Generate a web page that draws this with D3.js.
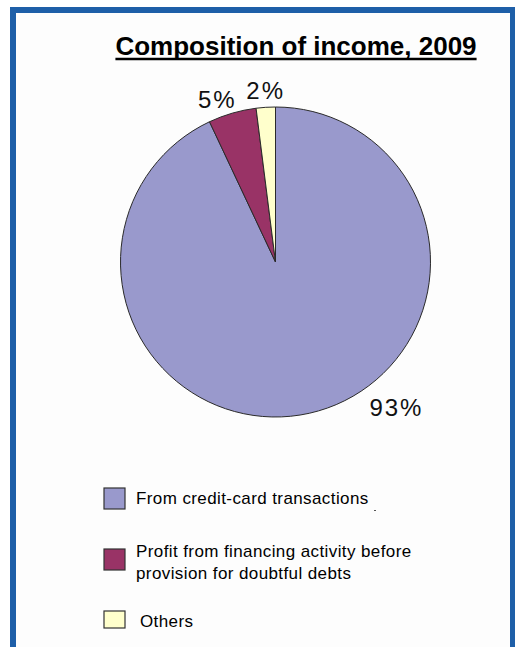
<!DOCTYPE html>
<html>
<head>
<meta charset="utf-8">
<script src="https://cdn.jsdelivr.net/npm/d3@7"></script>
<style>
  html, body { margin: 0; padding: 0; background: #ffffff; }
  svg { display: block; font-family: "Liberation Sans", Arial, Helvetica, sans-serif; }
</style>
</head>
<body>
<svg id="chart" width="515" height="647"></svg>
<script>
// Income composition, 2009 (share of total, %)
const categories = [
  "From credit-card transactions",
  "Profit from financing activity before provision for doubtful debts",
  "Others"
];
const legendLines = [
  ["From credit-card transactions"],
  ["Profit from financing activity before", "provision for doubtful debts"],
  ["Others"]
];
const shares = [93, 5, 2];
const sliceColors = ["#9999cc", "#993366", "#ffffcc"];
const chartTitle = "Composition of income, 2009";

const svg = d3.select("#chart");
const W = 515, H = 647;

// Blue frame around the panel (bottom edge runs off the page)
svg.append("rect")
  .attr("x", 13).attr("y", 10)
  .attr("width", 500).attr("height", H)
  .attr("fill", "#fdfdfd")
  .attr("stroke", "#1e5fa8")
  .attr("stroke-width", 6);

// Title, bold and underlined
const title = svg.append("text")
  .attr("x", 296).attr("y", 55)
  .attr("text-anchor", "middle")
  .attr("font-size", 26)
  .attr("font-weight", "bold")
  .attr("fill", "#000")
  .text(chartTitle);
const tb = title.node().getBBox();
svg.append("line")
  .attr("x1", tb.x).attr("x2", tb.x + tb.width)
  .attr("y1", 59).attr("y2", 59)
  .attr("stroke", "#000").attr("stroke-width", 2.5);

// Pie
const cx = 275.5, cy = 262, r = 155;
const pie = d3.pie().sort(null).value(d => d)(shares);
const arc = d3.arc().innerRadius(0).outerRadius(r);
const g = svg.append("g").attr("transform", `translate(${cx},${cy})`);

g.selectAll("path.slice")
  .data(pie)
  .join("path")
  .attr("class", "slice")
  .attr("d", arc)
  .attr("fill", (d, i) => sliceColors[i])
  .attr("stroke", "#2a2a2a")
  .attr("stroke-width", 1)
  .attr("stroke-linejoin", "round");

// Percentage labels just outside the rim; the large slice's label sits lower right,
// the two thin slices' labels are nudged apart so they don't collide
const labelNudge = [[0, 0], [-11, 4], [0, 1]];
function labelPos(d, i) {
  let a = (d.startAngle + d.endAngle) / 2;
  let rr = r + 18;
  if (i === 0) { a = d.startAngle + (d.endAngle - d.startAngle) * 0.42; rr = r + 34; }
  return [Math.sin(a) * rr + labelNudge[i][0], -Math.cos(a) * rr + labelNudge[i][1]];
}
g.selectAll("text.pct")
  .data(pie)
  .join("text")
  .attr("class", "pct")
  .attr("x", (d, i) => labelPos(d, i)[0] + 1)
  .attr("y", (d, i) => labelPos(d, i)[1])
  .attr("dy", "0.35em")
  .attr("text-anchor", "middle")
  .attr("font-size", 24)
  .attr("letter-spacing", 2)
  .attr("fill", "#111")
  .text(d => d.value + "%");

// Legend
const legendTop = [488, 549, 611];
const lg = svg.append("g");
categories.forEach((c, i) => {
  const y0 = legendTop[i];
  lg.append("rect")
    .attr("x", 104).attr("y", y0)
    .attr("width", 21).attr("height", i === 2 ? 17 : 21)
    .attr("fill", sliceColors[i])
    .attr("stroke", "#333").attr("stroke-width", 1.2);
  const lines = legendLines[i];
  const tx = i === 2 ? 140 : 136;
  const t = lg.append("text")
    .attr("x", tx)
    .attr("font-size", 17)
    .attr("letter-spacing", 0.4)
    .attr("fill", "#000");
  const baseY = lines.length === 1 ? y0 + 15.5 : y0 + 7.5;
  lines.forEach((ln, k) => {
    t.append("tspan")
      .attr("x", tx)
      .attr("y", baseY + k * 22)
      .text(ln);
  });
});

// small stray tick mark to the right of the first legend entry
svg.append("rect")
  .attr("x", 374).attr("y", 510).attr("width", 2).attr("height", 1)
  .attr("fill", "#555");
</script>
</body>
</html>
